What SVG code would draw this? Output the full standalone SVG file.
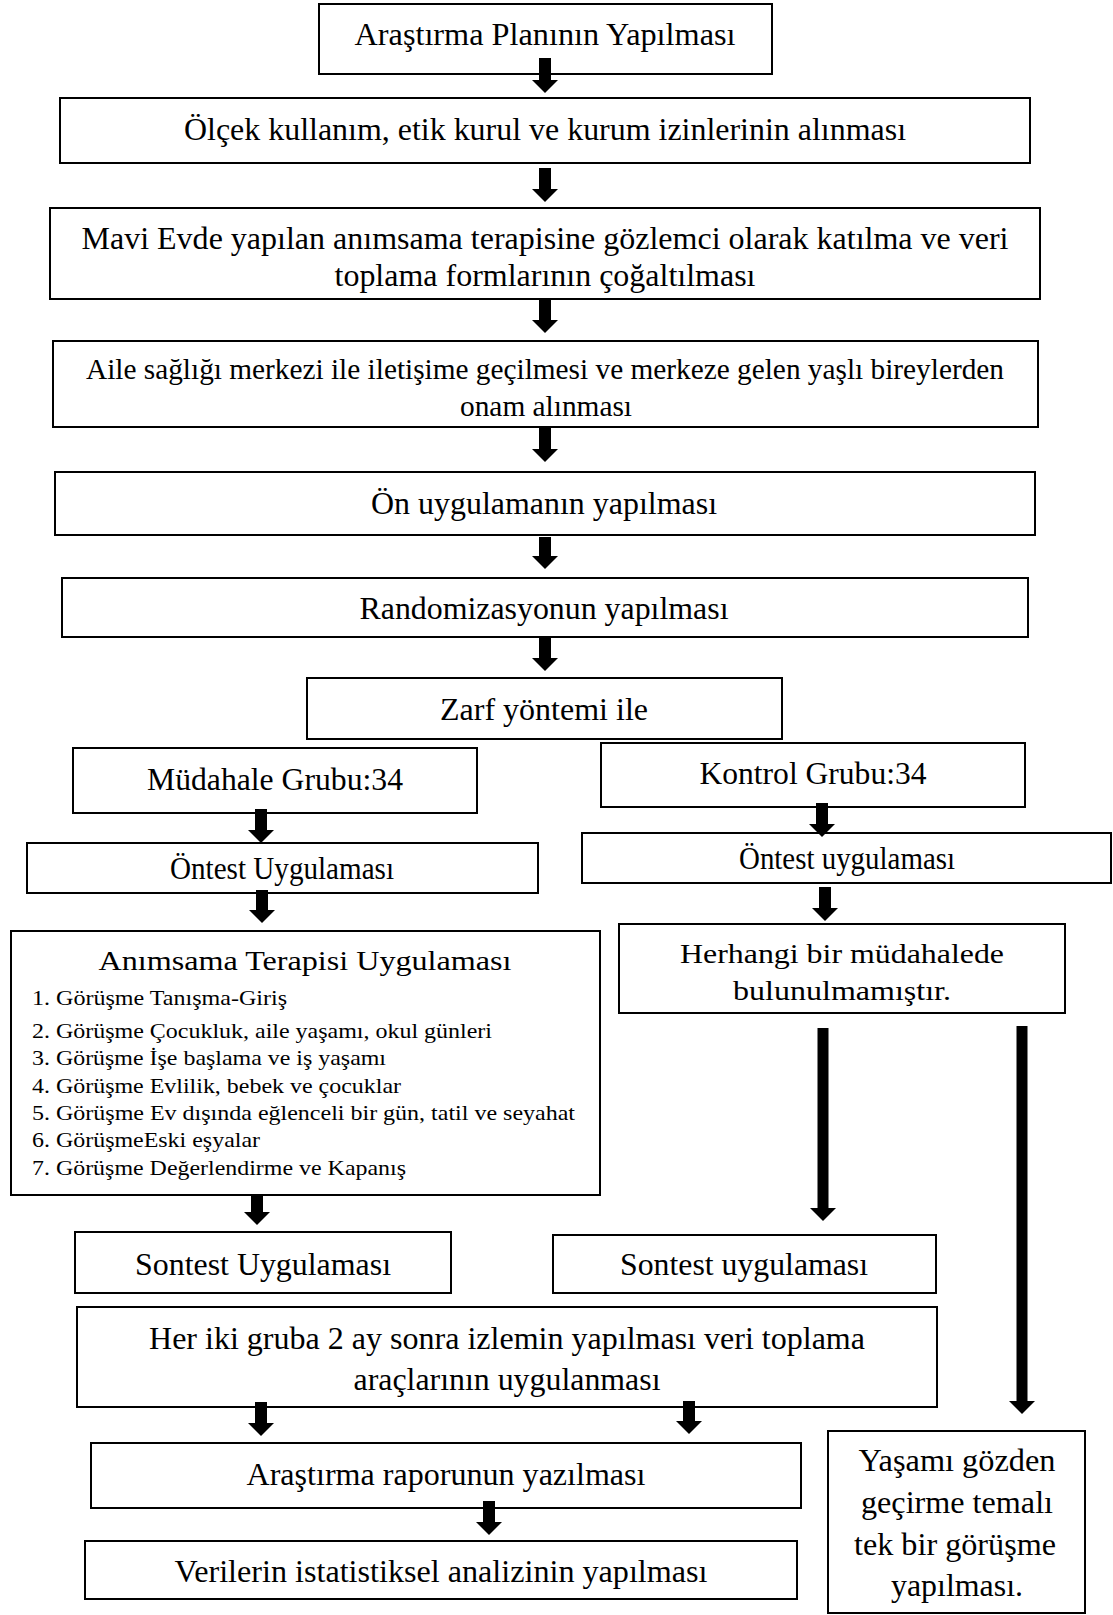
<svg xmlns="http://www.w3.org/2000/svg" width="1113" height="1615" viewBox="0 0 1113 1615">
<style>
.box{fill:#fff;stroke:#000;stroke-width:2}
.t{font-family:"Liberation Serif","Times New Roman",serif;font-size:32px;fill:#000;text-anchor:middle}
.s{font-size:29.5px}
.w{font-size:28px}
.li{font-family:"Liberation Serif","Times New Roman",serif;font-size:22px;fill:#000}
.arr{stroke:#000;stroke-width:12;fill:none;marker-end:url(#head)}
.thin{stroke-width:11}
</style>
<defs>
<marker id="head" viewBox="0 0 13 26" refX="0" refY="13" markerWidth="13" markerHeight="26" markerUnits="userSpaceOnUse" orient="auto">
<path d="M0,0 L13,13 L0,26 Z" fill="#000"/>
</marker>
</defs>
<rect width="1113" height="1615" fill="#fff"/>
<g id="nodes">
<g id="n1"><rect class="box" x="319" y="4" width="453" height="70"/><text class="t" x="545" y="45" textLength="381" lengthAdjust="spacingAndGlyphs">Araştırma Planının Yapılması</text></g>
<g id="n2"><rect class="box" x="60" y="98" width="970" height="65"/><text class="t" x="545" y="140" textLength="722" lengthAdjust="spacingAndGlyphs">Ölçek kullanım, etik kurul ve kurum izinlerinin alınması</text></g>
<g id="n3"><rect class="box" x="50" y="208" width="990" height="91"/><text class="t" x="545" y="248.5" textLength="927" lengthAdjust="spacingAndGlyphs">Mavi Evde yapılan anımsama terapisine gözlemci olarak katılma ve veri</text><text class="t" x="545" y="285.5" textLength="421" lengthAdjust="spacingAndGlyphs">toplama formlarının çoğaltılması</text></g>
<g id="n4"><rect class="box" x="53" y="341" width="985" height="86"/><text class="t s" x="545" y="379" textLength="918" lengthAdjust="spacingAndGlyphs">Aile sağlığı merkezi ile iletişime geçilmesi ve merkeze gelen yaşlı bireylerden</text><text class="t s" x="546" y="416" textLength="172" lengthAdjust="spacingAndGlyphs">onam alınması</text></g>
<g id="n5"><rect class="box" x="55" y="472" width="980" height="63"/><text class="t" x="544" y="513.5" textLength="346" lengthAdjust="spacingAndGlyphs">Ön uygulamanın yapılması</text></g>
<g id="n6"><rect class="box" x="62" y="578" width="966" height="59"/><text class="t" x="544" y="618.5" textLength="369" lengthAdjust="spacingAndGlyphs">Randomizasyonun yapılması</text></g>
<g id="n7"><rect class="box" x="307" y="678" width="475" height="61"/><text class="t" x="544" y="719.5" textLength="208" lengthAdjust="spacingAndGlyphs">Zarf yöntemi ile</text></g>
<g id="n8"><rect class="box" x="73" y="748" width="404" height="65"/><text class="t" x="275" y="789.5" textLength="256" lengthAdjust="spacingAndGlyphs">Müdahale Grubu:34</text></g>
<g id="n9"><rect class="box" x="601" y="743" width="424" height="64"/><text class="t" x="813" y="783.5" textLength="227" lengthAdjust="spacingAndGlyphs">Kontrol Grubu:34</text></g>
<g id="n10"><rect class="box" x="27" y="843" width="511" height="50"/><text class="t" x="282" y="879" textLength="224" lengthAdjust="spacingAndGlyphs">Öntest Uygulaması</text></g>
<g id="n11"><rect class="box" x="582" y="833" width="529" height="50"/><text class="t" x="847" y="869" textLength="216" lengthAdjust="spacingAndGlyphs">Öntest uygulaması</text></g>
<g id="n12"><rect class="box" x="11" y="931" width="589" height="264"/>
<text class="t w" x="305" y="970" textLength="413" lengthAdjust="spacingAndGlyphs">Anımsama Terapisi Uygulaması</text>
<text class="li" x="32" y="1005" textLength="255" lengthAdjust="spacingAndGlyphs">1. Görüşme Tanışma-Giriş</text>
<text class="li" x="32" y="1038" textLength="460" lengthAdjust="spacingAndGlyphs">2. Görüşme Çocukluk, aile yaşamı, okul günleri</text>
<text class="li" x="32" y="1065" textLength="354" lengthAdjust="spacingAndGlyphs">3. Görüşme İşe başlama ve iş yaşamı</text>
<text class="li" x="32" y="1093" textLength="369" lengthAdjust="spacingAndGlyphs">4. Görüşme Evlilik, bebek ve çocuklar</text>
<text class="li" x="32" y="1120" textLength="543" lengthAdjust="spacingAndGlyphs">5. Görüşme Ev dışında eğlenceli bir gün, tatil ve seyahat</text>
<text class="li" x="32" y="1147" textLength="228" lengthAdjust="spacingAndGlyphs">6. GörüşmeEski eşyalar</text>
<text class="li" x="32" y="1175" textLength="374" lengthAdjust="spacingAndGlyphs">7. Görüşme Değerlendirme ve Kapanış</text>
</g>
<g id="n13"><rect class="box" x="619" y="924" width="446" height="89"/><text class="t w" x="842" y="963" textLength="324" lengthAdjust="spacingAndGlyphs">Herhangi bir müdahalede</text><text class="t w" x="842" y="1000" textLength="218" lengthAdjust="spacingAndGlyphs">bulunulmamıştır.</text></g>
<g id="n14"><rect class="box" x="75" y="1232" width="376" height="61"/><text class="t" x="263" y="1274.5" textLength="256" lengthAdjust="spacingAndGlyphs">Sontest Uygulaması</text></g>
<g id="n15"><rect class="box" x="553" y="1235" width="383" height="58"/><text class="t" x="744" y="1274.5" textLength="248" lengthAdjust="spacingAndGlyphs">Sontest uygulaması</text></g>
<g id="n16"><rect class="box" x="77" y="1307" width="860" height="100"/><text class="t" x="507" y="1348.5" textLength="716" lengthAdjust="spacingAndGlyphs">Her iki gruba 2 ay sonra izlemin yapılması veri toplama</text><text class="t" x="507" y="1389.5" textLength="307" lengthAdjust="spacingAndGlyphs">araçlarının uygulanması</text></g>
<g id="n17"><rect class="box" x="91" y="1443" width="710" height="65"/><text class="t" x="446" y="1484.5" textLength="399" lengthAdjust="spacingAndGlyphs">Araştırma raporunun yazılması</text></g>
<g id="n18"><rect class="box" x="85" y="1541" width="712" height="58"/><text class="t" x="441" y="1581.5" textLength="533" lengthAdjust="spacingAndGlyphs">Verilerin istatistiksel analizinin yapılması</text></g>
<g id="n19"><rect class="box" x="828" y="1431" width="257" height="182"/>
<text class="t" x="957" y="1471" textLength="197" lengthAdjust="spacingAndGlyphs">Yaşamı gözden</text>
<text class="t" x="957" y="1512.5" textLength="192" lengthAdjust="spacingAndGlyphs">geçirme temalı</text>
<text class="t" x="955" y="1554.5" textLength="202" lengthAdjust="spacingAndGlyphs">tek bir görüşme</text>
<text class="t" x="957" y="1595.5" textLength="132" lengthAdjust="spacingAndGlyphs">yapılması.</text>
</g>
</g>
<g id="connectors">
<line class="arr" x1="545" y1="58" x2="545" y2="80"/>
<line class="arr" x1="545" y1="168" x2="545" y2="189"/>
<line class="arr" x1="545" y1="300" x2="545" y2="320"/>
<line class="arr" x1="545" y1="428" x2="545" y2="449"/>
<line class="arr" x1="545" y1="537" x2="545" y2="556"/>
<line class="arr" x1="545" y1="638" x2="545" y2="658"/>
<line class="arr" x1="261" y1="809" x2="261" y2="830"/>
<line class="arr" x1="822" y1="803" x2="822" y2="824"/>
<line class="arr" x1="262" y1="890" x2="262" y2="910"/>
<line class="arr" x1="825" y1="887" x2="825" y2="908"/>
<line class="arr" x1="257" y1="1195" x2="257" y2="1212"/>
<line class="arr thin" x1="823" y1="1028" x2="823" y2="1208"/>
<line class="arr thin" x1="1022" y1="1026" x2="1022" y2="1401"/>
<line class="arr" x1="261" y1="1402" x2="261" y2="1423"/>
<line class="arr" x1="689" y1="1401" x2="689" y2="1421"/>
<line class="arr" x1="489" y1="1501" x2="489" y2="1522"/>
</g>
</svg>
